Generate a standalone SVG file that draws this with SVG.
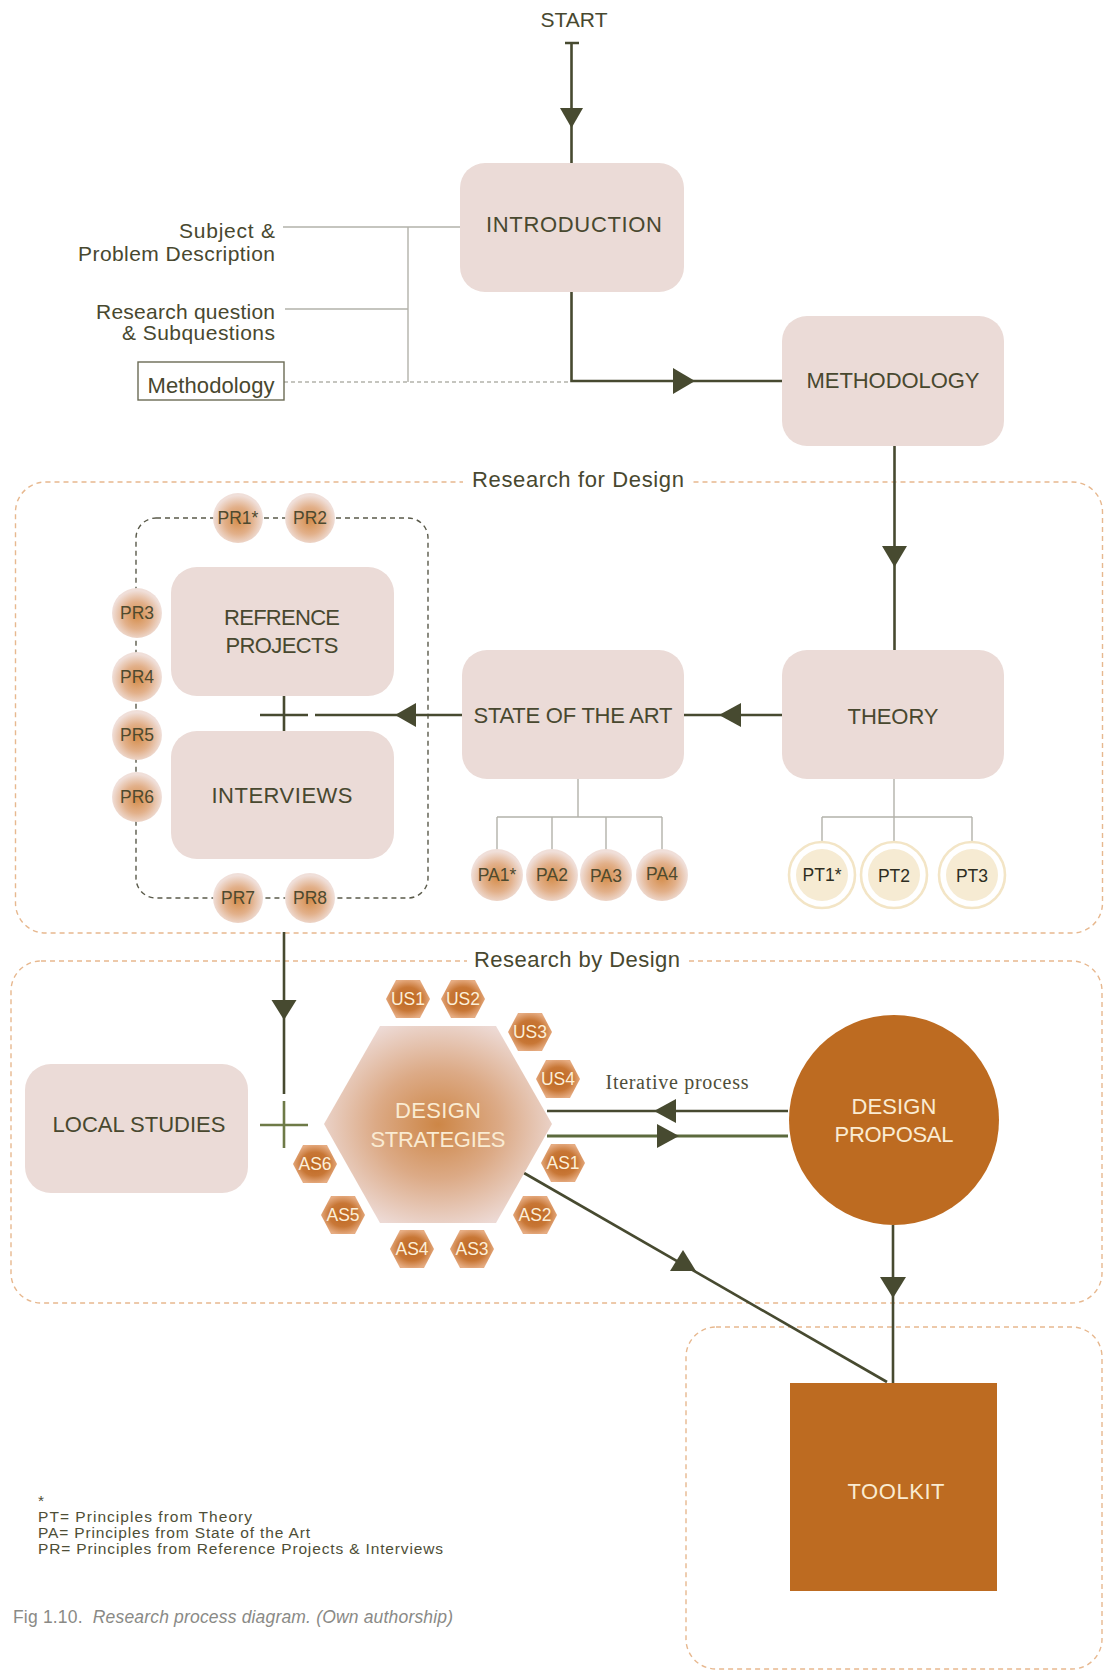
<svg xmlns="http://www.w3.org/2000/svg" width="1105" height="1674" viewBox="0 0 1105 1674">
<style>
.bg{fill:#ffffff}
.box{fill:#ebdbd7}
.lbl{font-family:"Liberation Sans","Noto Sans",Arial,sans-serif;fill:#48482f;text-anchor:middle}
.big{font-size:22px}
.side{font-family:"Liberation Sans","Noto Sans",Arial,sans-serif;fill:#48482f;font-size:21px;text-anchor:end}
.cream{fill:#faebd2}
.orange{fill:#bd6b21}
.con{fill:none;stroke:#474a30;stroke-width:2.6}
.ah{fill:#474a30}
.grey{fill:none;stroke:#b3b2aa;stroke-width:1.4}
.greyd{fill:none;stroke:#b3b2aa;stroke-width:1.4;stroke-dasharray:4 3}
.grp{fill:none;stroke:#e7b88f;stroke-width:1.4;stroke-dasharray:5 4}
.inner{fill:none;stroke:#5a5a4a;stroke-width:1.4;stroke-dasharray:5 4}
.sm{font-family:"Liberation Sans","Noto Sans",Arial,sans-serif;font-size:17.5px;text-anchor:middle;fill:#4e4a2e}
.smc{font-family:"Liberation Sans","Noto Sans",Arial,sans-serif;font-size:17.5px;text-anchor:middle;fill:#fcefd8}
.pr{fill:url(#prG)}
.hx{fill:url(#hxG)}
.ptin{fill:#f6ebd3}
.ptring{fill:#ffffff;stroke:#f3e5c6;stroke-width:2.6}
</style>
<defs>
<radialGradient id="prG" cx="50%" cy="55%" r="50%">
<stop offset="0" stop-color="#d58e4c"/>
<stop offset="0.55" stop-color="#e2b08a"/>
<stop offset="1" stop-color="#f0dfd9"/>
</radialGradient>
<radialGradient id="bigG" cx="50%" cy="50%" r="55%">
<stop offset="0" stop-color="#cd8646"/>
<stop offset="0.5" stop-color="#dcaa86"/>
<stop offset="1" stop-color="#eddad5"/>
</radialGradient>
<radialGradient id="hxG" cx="50%" cy="50%" r="52%">
<stop offset="0" stop-color="#bd6620"/>
<stop offset="0.6" stop-color="#c87736"/>
<stop offset="1" stop-color="#e6ac82"/>
</radialGradient>
<polygon id="shx" points="-22,0 -12,-19 12,-19 22,0 12,19 -12,19"/>
</defs>
<rect class="bg" x="0" y="0" width="1105" height="1674"/>

<g id="groups">
<rect class="grp" x="15.5" y="482" width="1087" height="451" rx="30"/>
<rect class="bg" x="463" y="465" width="230" height="30"/>
<text class="lbl" x="578" y="487" font-size="22" textLength="212">Research for Design</text>
<rect class="grp" x="11" y="961" width="1091" height="342" rx="30"/>
<rect class="bg" x="467" y="945" width="222" height="28"/>
<text class="lbl" x="577" y="967" font-size="22" textLength="206">Research by Design</text>
<rect class="grp" x="686" y="1327" width="416" height="342" rx="30"/>
<rect class="inner" x="136" y="518" width="292" height="380" rx="20"/>
</g>

<g id="annotations">
<path class="grey" d="M283 227 H460 M285 309 H408 M408 227 V382"/>
<path class="greyd" d="M284 382 H571"/>
<text class="side" x="275" y="238" textLength="96">Subject &amp;</text>
<text class="side" x="275" y="261" textLength="197">Problem Description</text>
<text class="side" x="275" y="319" textLength="179">Research question</text>
<text class="side" x="275" y="340" textLength="153">&amp; Subquestions</text>
<g id="n-methodology-note">
<rect x="138" y="362" width="146" height="38" fill="#ffffff" stroke="#6b6b55" stroke-width="1.4"/>
<text class="lbl" x="211" y="393" font-size="22" textLength="127">Methodology</text>
</g>
</g>

<g id="connectors">
<path class="con" d="M565 43 H579 M571.5 43 V163"/>
<polygon class="ah" points="560,108 583,108 571.5,128"/>
<path class="con" d="M571.5 292 V381 H782"/>
<polygon class="ah" points="673,368 673,394 695,381"/>
<path class="con" d="M894.5 446 V650"/>
<polygon class="ah" points="882,546 907,546 894.5,567"/>
<path class="con" d="M782 715 H684"/>
<polygon class="ah" points="741,703 741,727 719,715"/>
<path class="con" stroke-width="3" d="M462 715 H315"/>
<polygon class="ah" points="416,703 416,727 395,715"/>
<path class="con" d="M284 691 V739 M260 715 H308"/>
<path class="con" d="M284 932 V1094"/>
<polygon class="ah" points="271.5,1000 296.5,1000 284,1020"/>
<path fill="none" stroke="#6e7a47" stroke-width="2.6" d="M284 1101 V1148 M260 1125 H308"/>
<path class="con" stroke-width="3" d="M547 1111 H788"/>
<polygon class="ah" points="676,1099 676,1123 654,1111"/>
<path fill="none" stroke="#5c6a3d" stroke-width="3" d="M547 1136 H788"/>
<polygon class="ah" points="657,1124 657,1148 679,1136"/>
<text x="677" y="1089" font-family="'Liberation Serif','DejaVu Serif',serif" font-size="20" fill="#4e4e3a" text-anchor="middle" textLength="143">Iterative process</text>
<path class="con" d="M893 1225 V1383"/>
<polygon class="ah" points="880,1277 906,1277 893,1298"/>
<path class="con" d="M524 1173 L887 1382"/>
<polygon class="ah" points="670,1271 696,1271 683,1250"/>
</g>

<g id="n-start"><text class="lbl" x="574" y="27" font-size="21" textLength="67">START</text></g>
<g id="n-introduction">
<rect class="box" x="460" y="163" width="224" height="129" rx="25"/>
<text class="lbl big" x="574" y="232" textLength="176">INTRODUCTION</text>
</g>
<g id="n-methodology">
<rect class="box" x="782" y="316" width="222" height="130" rx="25"/>
<text class="lbl big" x="893" y="388" textLength="173">METHODOLOGY</text>
</g>
<g id="n-theory">
<rect class="box" x="782" y="650" width="222" height="129" rx="25"/>
<text class="lbl big" x="893" y="724" textLength="91">THEORY</text>
</g>
<g id="n-state-of-the-art">
<rect class="box" x="462" y="650" width="222" height="129" rx="25"/>
<text class="lbl big" x="573" y="723" textLength="199">STATE OF THE ART</text>
</g>
<g id="n-reference-projects">
<rect class="box" x="171" y="567" width="223" height="129" rx="26"/>
<text class="lbl big" x="282" y="625" textLength="116">REFRENCE</text>
<text class="lbl big" x="282" y="653" textLength="113">PROJECTS</text>
</g>
<g id="n-interviews">
<rect class="box" x="171" y="731" width="223" height="128" rx="26"/>
<text class="lbl big" x="282" y="803" textLength="141">INTERVIEWS</text>
</g>

<g id="pa-tree">
<path class="grey" d="M578 779 V817 M497 817 H662 M497 817 V852 M552 817 V852 M606 817 V852 M662 817 V852"/>
</g>
<g id="pt-tree">
<path class="grey" d="M894 779 V842 M822 817 H972 M822 817 V842 M972 817 V842"/>
</g>

<g id="pr-nodes">
<g id="pr1"><circle class="pr" cx="238" cy="518" r="25"/><text class="sm" x="238" y="524">PR1*</text></g>
<g id="pr2"><circle class="pr" cx="310" cy="518" r="25"/><text class="sm" x="310" y="524">PR2</text></g>
<g id="pr3"><circle class="pr" cx="137" cy="613" r="25"/><text class="sm" x="137" y="619">PR3</text></g>
<g id="pr4"><circle class="pr" cx="137" cy="677" r="25"/><text class="sm" x="137" y="683">PR4</text></g>
<g id="pr5"><circle class="pr" cx="137" cy="735" r="25"/><text class="sm" x="137" y="741">PR5</text></g>
<g id="pr6"><circle class="pr" cx="137" cy="797" r="25"/><text class="sm" x="137" y="803">PR6</text></g>
<g id="pr7"><circle class="pr" cx="238" cy="898" r="25"/><text class="sm" x="238" y="904">PR7</text></g>
<g id="pr8"><circle class="pr" cx="310" cy="898" r="25"/><text class="sm" x="310" y="904">PR8</text></g>
</g>

<g id="pa-nodes">
<g id="pa1"><circle class="pr" cx="497" cy="875" r="26"/><text class="sm" x="497" y="881">PA1*</text></g>
<g id="pa2"><circle class="pr" cx="552" cy="875" r="26"/><text class="sm" x="552" y="881">PA2</text></g>
<g id="pa3"><circle class="pr" cx="606" cy="875" r="26"/><text class="sm" x="606" y="882">PA3</text></g>
<g id="pa4"><circle class="pr" cx="662" cy="875" r="26"/><text class="sm" x="662" y="880">PA4</text></g>
</g>

<g id="pt-nodes">
<g id="pt1"><circle class="ptring" cx="822" cy="875" r="33"/><circle class="ptin" cx="822" cy="875" r="26"/><text class="sm" style="fill:#2e2e22" x="822" y="881">PT1*</text></g>
<g id="pt2"><circle class="ptring" cx="894" cy="875" r="33"/><circle class="ptin" cx="894" cy="875" r="26"/><text class="sm" style="fill:#2e2e22" x="894" y="882">PT2</text></g>
<g id="pt3"><circle class="ptring" cx="972" cy="875" r="33"/><circle class="ptin" cx="972" cy="875" r="26"/><text class="sm" style="fill:#2e2e22" x="972" y="882">PT3</text></g>
</g>

<g id="n-local-studies">
<rect class="box" x="25" y="1064" width="223" height="129" rx="26"/>
<text class="lbl big" x="139" y="1132" textLength="173">LOCAL STUDIES</text>
</g>

<g id="n-design-strategies">
<polygon fill="url(#bigG)" points="324,1124 380,1026 496,1026 552,1124 496,1223 380,1223"/>
<text class="lbl cream" x="438" y="1118" font-size="22" textLength="86">DESIGN</text>
<text class="lbl cream" x="438" y="1147" font-size="22" textLength="135">STRATEGIES</text>
</g>

<g id="strategy-hexes">
<g id="us1"><use href="#shx" class="hx" x="408" y="999"/><text class="smc" x="408" y="1005">US1</text></g>
<g id="us2"><use href="#shx" class="hx" x="463" y="999"/><text class="smc" x="463" y="1005">US2</text></g>
<g id="us3"><use href="#shx" class="hx" x="530" y="1032"/><text class="smc" x="530" y="1038">US3</text></g>
<g id="us4"><use href="#shx" class="hx" x="558" y="1079"/><text class="smc" x="558" y="1085">US4</text></g>
<g id="as1"><use href="#shx" class="hx" x="563" y="1163"/><text class="smc" x="563" y="1169">AS1</text></g>
<g id="as2"><use href="#shx" class="hx" x="535" y="1215"/><text class="smc" x="535" y="1221">AS2</text></g>
<g id="as3"><use href="#shx" class="hx" x="472" y="1249"/><text class="smc" x="472" y="1255">AS3</text></g>
<g id="as4"><use href="#shx" class="hx" x="412" y="1249"/><text class="smc" x="412" y="1255">AS4</text></g>
<g id="as5"><use href="#shx" class="hx" x="343" y="1215"/><text class="smc" x="343" y="1221">AS5</text></g>
<g id="as6"><use href="#shx" class="hx" x="315" y="1164"/><text class="smc" x="315" y="1170">AS6</text></g>
</g>

<g id="n-design-proposal">
<circle class="orange" cx="894" cy="1120" r="105"/>
<text class="lbl cream" x="894" y="1114" font-size="22" textLength="85">DESIGN</text>
<text class="lbl cream" x="894" y="1142" font-size="22" textLength="119">PROPOSAL</text>
</g>

<g id="n-toolkit">
<rect class="orange" x="790" y="1383" width="207" height="208"/>
<text class="lbl cream" x="896" y="1499" font-size="22" textLength="97">TOOLKIT</text>
</g>

<g id="legend" font-family="'Liberation Sans','Noto Sans',Arial,sans-serif" font-size="15.5" fill="#4e4e36">
<text x="38" y="1506">*</text>
<text x="38" y="1522" textLength="214">PT= Principles from Theory</text>
<text x="38" y="1538" textLength="272">PA= Principles from State of the Art</text>
<text x="38" y="1554" textLength="405">PR= Principles from Reference Projects &amp; Interviews</text>
</g>
<g id="caption" font-family="'Liberation Sans','Noto Sans',Arial,sans-serif" font-size="17.5" fill="#8a8a86">
<text x="13" y="1623" textLength="440">Fig 1.10.&#160; <tspan font-style="italic">Research process diagram. (Own authorship)</tspan></text>
</g>
</svg>
